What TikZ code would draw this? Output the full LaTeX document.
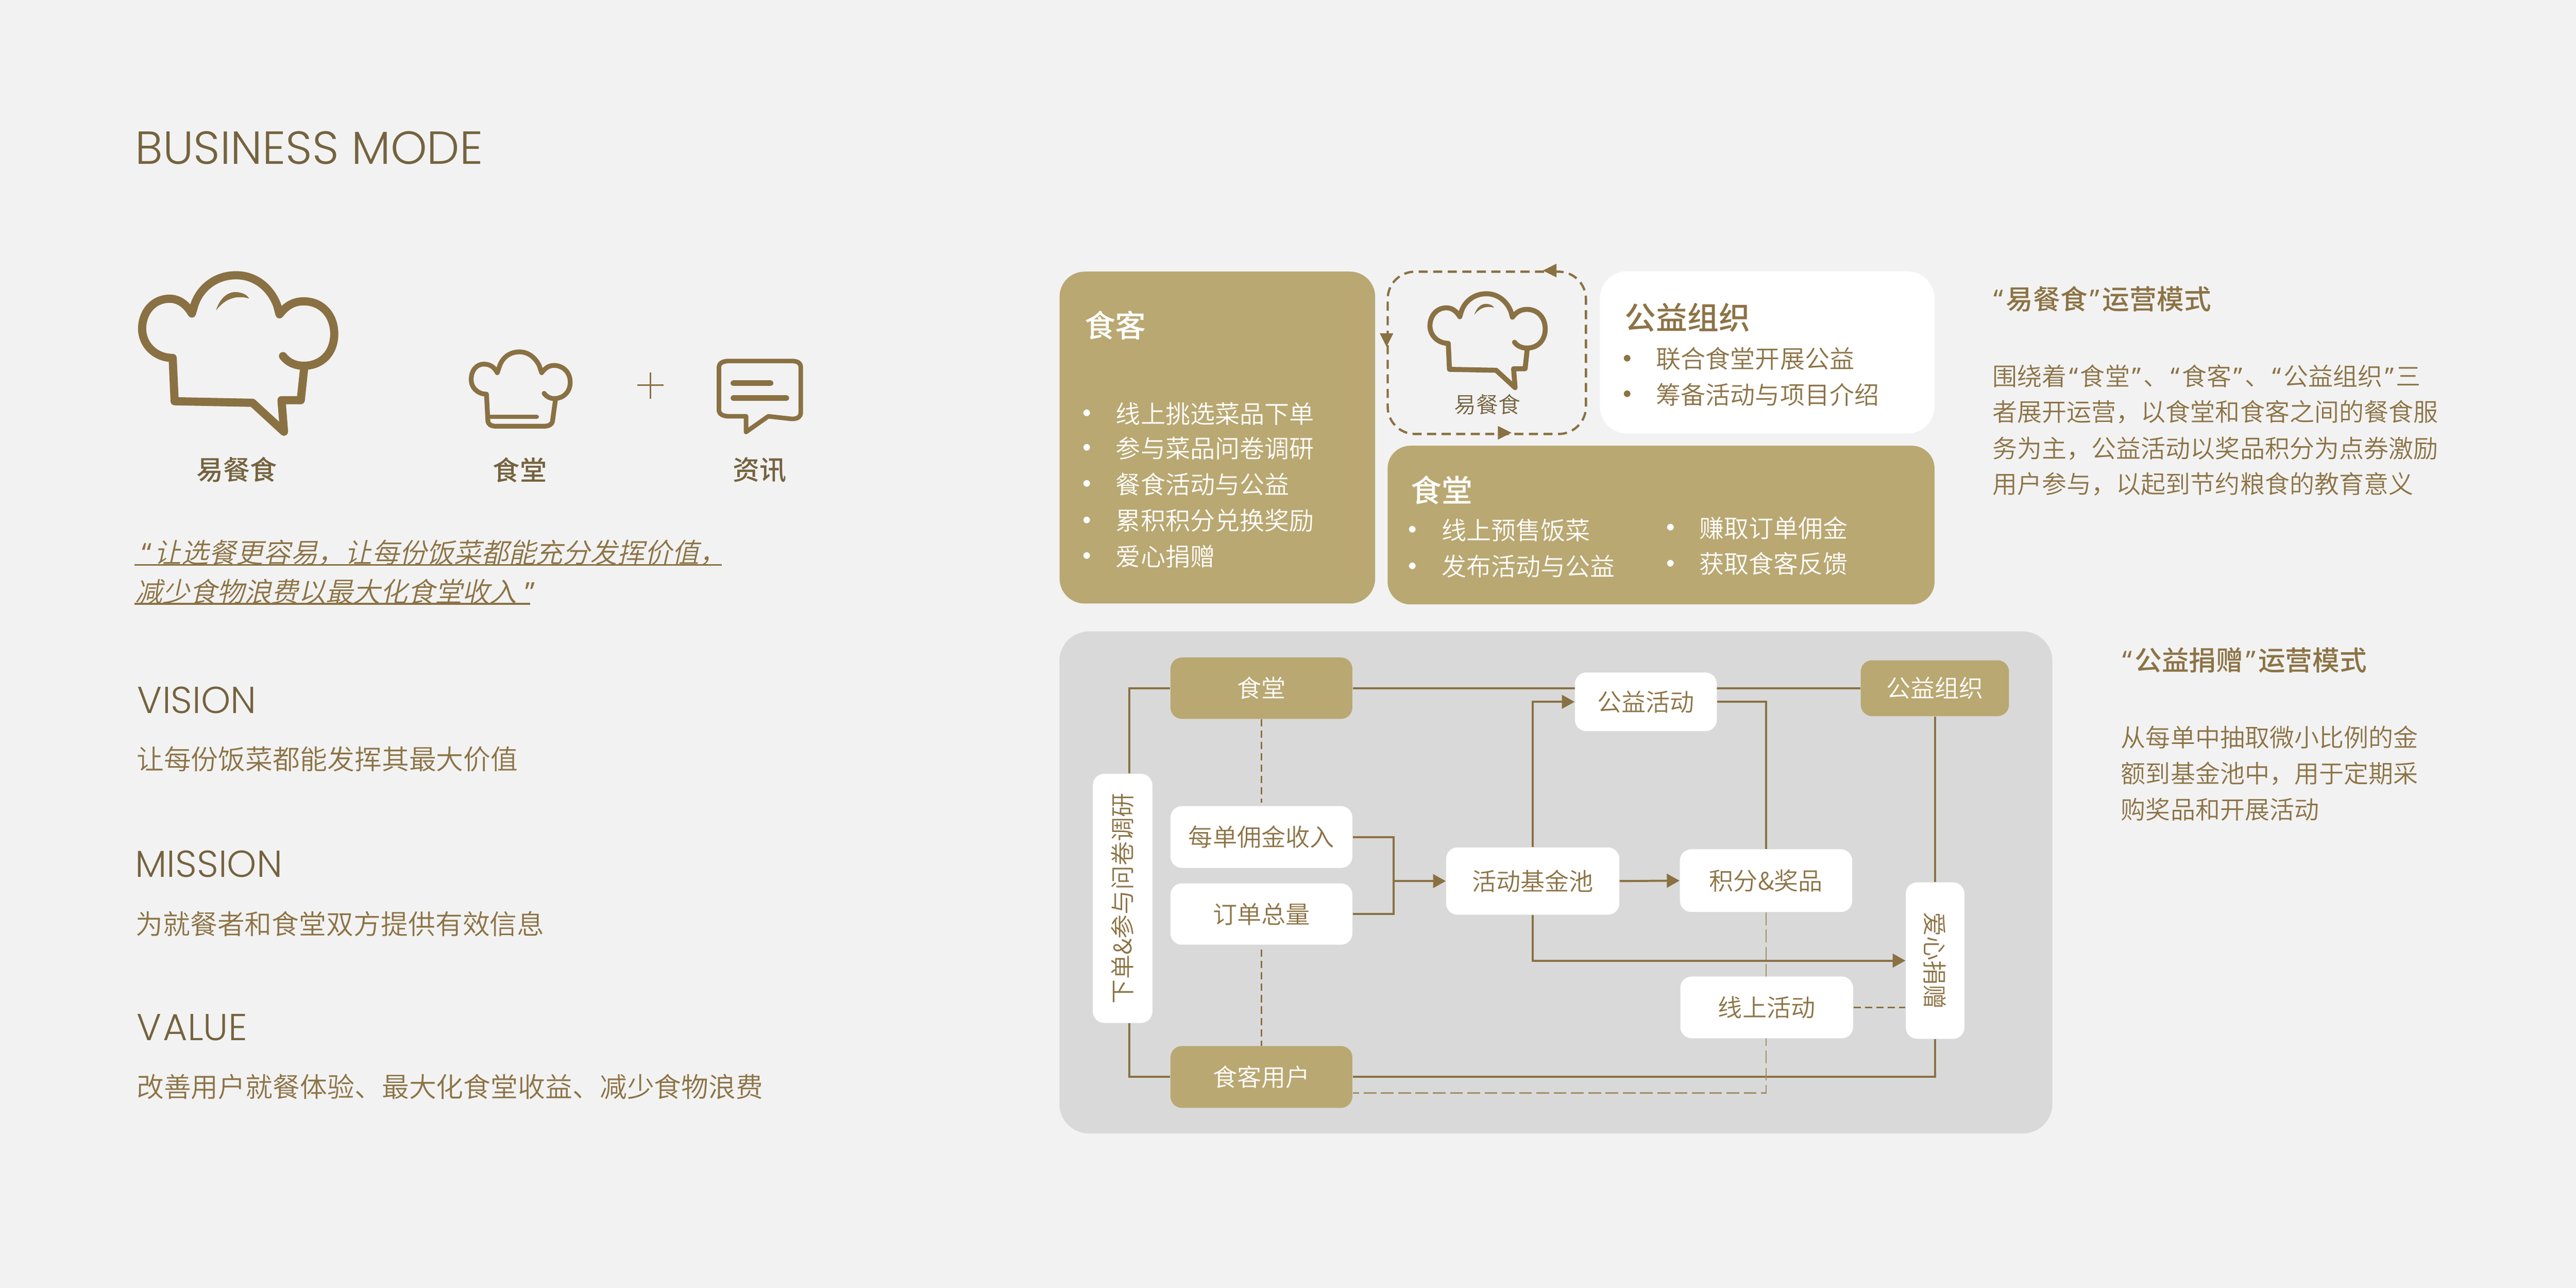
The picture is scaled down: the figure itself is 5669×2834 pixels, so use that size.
\documentclass[tikz,border=0pt]{standalone}
\usepackage{fontspec}
\setmainfont{Noto Sans CJK SC DemiLight}
\newfontfamily\cjkmed{Noto Sans CJK SC Medium}
\newfontfamily\cjkslant[FakeSlant=0.22]{Noto Sans CJK SC DemiLight}
\newfontfamily\latinlight{Poppins Light}
\newfontfamily\quotefont{Noto Sans}
\usetikzlibrary{arrows.meta,calc,backgrounds}
\definecolor{bgc}{HTML}{F2F2F2}
\definecolor{panelc}{HTML}{D9D9D9}
\definecolor{goldc}{HTML}{B9A872}
\definecolor{linec}{HTML}{8A7143}
\definecolor{textc}{HTML}{8C7345}
\definecolor{headc}{HTML}{75633F}
\pgfdeclarelayer{back}
\pgfdeclarelayer{edges}
\pgfsetlayers{back,edges,main}
\newcommand\fsz[1]{\fontsize{#1pt}{#1pt}\selectfont}
\newcommand\bul{\makebox[0.69cm][l]{\hspace{-0.30cm}\raisebox{-0.05cm}{\scalebox{1.3}{•}}}}
\newcommand\qo{\makebox[0.55em][c]{\quotefont “}}
\newcommand\qc{\makebox[0.55em][c]{\quotefont ”}}
\tikzset{
  txt/.style={inner sep=0,anchor=west,text=textc},
  body/.style={txt,font=\fsz{15.5}},
  lead/.style={txt,font=\fsz{17.05}},
  head/.style={txt,text=textc,font=\fsz{17}\cjkmed},
  eng/.style={txt,text=headc,font=\fsz{23.5}\latinlight},
  engbig/.style={txt,text=headc,font=\fsz{29}\latinlight},
  wbox/.style={rounded corners=0.25cm,fill=white,inner sep=0,text=textc,font=\fsz{15.2},align=center},
  gbox/.style={rounded corners=0.25cm,fill=goldc,inner sep=0,text=white,font=\fsz{15.2},align=center},
  conn/.style={draw=linec,line width=0.045cm},
  arr/.style={conn,-{Triangle[length=0.28cm,width=0.30cm]}},
  dash1/.style={draw=linec,line width=0.04cm,dash pattern=on 0.16cm off 0.09cm},
  dash2/.style={draw=linec!80,line width=0.03cm,dash pattern=on 0.28cm off 0.1cm},
  hatline/.style={draw=linec,line join=round,line cap=round},
}
\newcommand\hatshape[1]{%
  \draw[hatline,line width=#1]
    (390,485) .. controls (400,510) and (415,522) .. (432,522)
    .. controls (470,522) and (494,470) .. (494,400)
    .. controls (494,330) and (470,275) .. (432,275)
    .. controls (410,275) and (395,295) .. (383,325)
    -- (378,290) .. controls (365,225) and (335,175) .. (295,175)
    .. controls (250,175) and (220,230) .. (210,290)
    -- (205,322) .. controls (195,290) and (180,265) .. (160,265)
    .. controls (125,265) and (104,320) .. (104,380)
    .. controls (104,440) and (130,492) .. (166,492)
    -- (170,658) -- (328,664) -- (392,775) -- (387,654) -- (426,654) -- (433,530);
  \fill[linec] (254,310) .. controls (262,260) and (280,235) .. (298,240)
    .. controls (310,243) and (318,252) .. (321,264)
    .. controls (295,250) and (272,265) .. (254,310) -- cycle;
}
\begin{document}
\begin{tikzpicture}[x=0.01cm,y=-0.01cm]
\useasboundingbox (0,0) rectangle (5669,2834);
\begin{pgfonlayer}{back}
  \fill[bgc] (0,0) rectangle (5669,2834);
  \node[fill=panelc,rounded corners=0.65cm,inner sep=0,minimum width=21.84cm,minimum height=11.04cm] (panel) at (3424,1942) {};
\end{pgfonlayer}

% ---- left column
\node[engbig] (title) at (297,325) {BUSINESS MODE};

\begin{scope}[shift={(303,600)},xscale=1.0841,yscale=.574,shift={(-95,-165)}]
  \hatshape{0.18cm}
\end{scope}
\node[lead,anchor=center,text=headc,font=\fsz{16.8}\cjkmed] (lbl1) at (521,1034) {易餐食};

% canteen icon
\begin{scope}[shift={(200,500)},xscale=1.0841,yscale=.574]
  \draw[hatline,line width=0.105cm]
    (920,637) .. controls (925,650) and (932,657) .. (940,657)
    .. controls (960,657) and (973,630) .. (973,595)
    .. controls (973,555) and (958,530) .. (940,530)
    .. controls (930,530) and (922,540) .. (915,558)
    -- (910,530) .. controls (902,500) and (888,478) .. (870,478)
    .. controls (850,478) and (836,500) .. (830,530)
    -- (825,558) .. controls (820,540) and (812,525) .. (798,525)
    .. controls (782,525) and (772,550) .. (772,585)
    .. controls (772,615) and (785,640) .. (803,640)
    -- (806,745) .. controls (807,755) and (812,763) .. (822,763)
    -- (920,763) .. controls (930,763) and (936,755) .. (937,745) -- (943,662);
  \draw[linec,line width=0.10cm,line cap=round] (812,727) -- (905,727);
\end{scope}
\node[lead,anchor=center,text=headc,font=\fsz{16.8}\cjkmed] (lbl2) at (1144,1034) {食堂};

% plus
\draw[linec,line width=0.035cm] (1403,847) -- (1460,847);
\draw[linec,line width=0.035cm] (1431,820) -- (1431,877);

% message icon
\begin{scope}[shift={(200,500)},xscale=1.0841,yscale=.574]
  \draw[hatline,line width=0.10cm]
    (1295,513) -- (1423,513) .. controls (1435,513) and (1441,522) .. (1441,535)
    -- (1441,712) .. controls (1441,726) and (1435,735) .. (1423,735)
    -- (1375,725) -- (1330,785) -- (1330,725) -- (1295,725)
    .. controls (1283,725) and (1275,716) .. (1275,702)
    -- (1275,535) .. controls (1275,522) and (1283,513) .. (1295,513) -- cycle;
  \draw[linec,line width=0.12cm,line cap=round] (1304,598) -- (1380,598);
  \draw[linec,line width=0.12cm,line cap=round] (1304,655) -- (1412,655);
\end{scope}
\node[lead,anchor=center,text=headc,font=\fsz{16.8}\cjkmed] (lbl3) at (1672,1034) {资讯};

\node[lead,font=\fsz{17.05}\cjkslant] (q1) at (306,1216) {\qo 让选餐更容易，让每份饭菜都能充分发挥价值，};
\node[lead,font=\fsz{17.05}\cjkslant] (q2) at (297,1302) {减少食物浪费以最大化食堂收入 \qc};
\draw[linec,line width=0.04cm] (296,1243) -- (1589,1243);
\draw[linec,line width=0.04cm] (296,1329) -- (1167,1329);

\node[eng] (vision) at (302,1541) {VISION};
\node[lead] (visiont) at (300,1671) {让每份饭菜都能发挥其最大价值};
\node[eng] (mission) at (297,1901) {MISSION};
\node[lead] (missiont) at (298,2033) {为就餐者和食堂双方提供有效信息};
\node[eng] (value) at (300,2261) {V\hspace{0.04cm}ALUE};
\node[lead] (valuet) at (300,2392) {改善用户就餐体验、最大化食堂收益、减少食物浪费};

% ---- top panels
\node[fill=goldc,rounded corners=0.55cm,inner sep=0,minimum width=6.94cm,minimum height=7.30cm] (pA) at (2679,963) {};
\node[txt,text=white,font=\fsz{19.3}\cjkmed] (pAt) at (2386,716) {食客};
\node[body,text=white] (a1) at (2386,911) {\bul 线上挑选菜品下单};
\node[body,text=white] (a2) at (2386,987) {\bul 参与菜品问卷调研};
\node[body,text=white] (a3) at (2386,1066) {\bul 餐食活动与公益};
\node[body,text=white] (a4) at (2386,1146) {\bul 累积积分兑换奖励};
\node[body,text=white] (a5) at (2386,1225) {\bul 爱心捐赠};

\node[draw=linec,line width=0.05cm,dash pattern=on 0.2cm off 0.12cm,rounded corners=0.6cm,inner sep=0,minimum width=4.36cm,minimum height=3.57cm] (pB) at (3272,776.5) {};
\fill[linec] (pB.north west) ++(344,0) -- ++(30,-15) -- ++(0,30) -- cycle;
\fill[linec] (pB.north west) ++(0,168) -- ++(-15,-30) -- ++(30,0) -- cycle;
\fill[linec] (pB.north west) ++(275,357) -- ++(-30,-15) -- ++(0,30) -- cycle;
\begin{scope}[shift={(3141,643)},xscale=.6505,yscale=.3444,shift={(-95,-165)}]
  \hatshape{0.11cm}
\end{scope}
\node[txt,anchor=center,font=\fsz{13.8},text=headc] (pBt) at (3273,890) {易餐食};

\node[fill=white,rounded corners=0.6cm,inner sep=0,minimum width=7.36cm,minimum height=3.57cm] (pC) at (3889,775.5) {};
\node[txt,font=\fsz{19.6}\cjkmed] (pCt) at (3575,699) {公益组织};
\node[body] (c1) at (3575,790) {\bul 联合食堂开展公益};
\node[body] (c2) at (3575,869) {\bul 筹备活动与项目介绍};

\node[fill=goldc,rounded corners=0.5cm,inner sep=0,minimum width=12.03cm,minimum height=3.49cm] (pD) at (3655.5,1155.5) {};
\node[txt,text=white,font=\fsz{19.3}\cjkmed] (pDt) at (3104,1079) {食堂};
\node[body,text=white] (d1) at (3103,1167) {\bul 线上预售饭菜};
\node[body,text=white] (d2) at (3103,1247) {\bul 发布活动与公益};
\node[body,text=white] (d3) at (3670,1162) {\bul 赚取订单佣金};
\node[body,text=white] (d4) at (3670,1241) {\bul 获取食客反馈};

% ---- right text
\node[head] (r1t) at (4381,658) {\qo 易餐食\qc 运营模式};
\node[body] (r1a) at (4384,828) {围绕着\qo 食堂\qc 、\qo 食客\qc 、\qo 公益组织\qc 三};
\node[body] (r1b) at (4384,907) {者展开运营，以食堂和食客之间的餐食服};
\node[body] (r1c) at (4384,987) {务为主，公益活动以奖品积分为点券激励};
\node[body] (r1d) at (4384,1065) {用户参与，以起到节约粮食的教育意义};
\node[head] (r2t) at (4664,1453) {\qo 公益捐赠\qc 运营模式};
\node[body] (r2a) at (4667,1623) {从每单中抽取微小比例的金};
\node[body] (r2b) at (4667,1703) {额到基金池中，用于定期采};
\node[body] (r2c) at (4667,1782) {购奖品和开展活动};

% ---- flow diagram
\node[gbox,minimum width=4cm,minimum height=1.35cm] (shitang) at (2776,1514.5) {食堂};
\node[wbox,minimum width=4cm,minimum height=1.36cm] (meidan) at (2776,1842) {每单佣金收入};
\node[wbox,minimum width=4cm,minimum height=1.35cm] (dingdan) at (2776,2011.5) {订单总量};
\node[gbox,minimum width=4cm,minimum height=1.36cm] (shike) at (2776,2370) {食客用户};
\node[wbox,minimum width=1.31cm,minimum height=5.48cm] (wenjuan) at (2470.5,1977) {\rotatebox{90}{下单\&参与问卷调研}};
\node[wbox,minimum width=3.81cm,minimum height=1.48cm] (fund) at (3373,1939) {活动基金池};
\node[wbox,minimum width=3.12cm,minimum height=1.29cm] (gongyi) at (3622,1544.5) {公益活动};
\node[wbox,minimum width=3.79cm,minimum height=1.38cm] (jifen) at (3886.5,1938) {积分\&奖品};
\node[wbox,minimum width=3.80cm,minimum height=1.36cm] (xianshang) at (3888,2217) {线上活动};
\node[gbox,minimum width=3.26cm,minimum height=1.23cm] (zuzhi) at (4258,1514.5) {公益组织};
\node[wbox,minimum width=1.29cm,minimum height=3.44cm] (aixin) at (4258.5,2114) {\rotatebox{-90}{爱心捐赠}};
\coordinate (jx) at (3067,1939);

\begin{pgfonlayer}{edges}
  \draw[conn] (shitang.east) -- (zuzhi.west);
  \draw[conn] (shitang.west) -| ($(wenjuan.north)+(15,0)$);
  \draw[conn] (shike.west) -| ($(wenjuan.south)+(15,0)$);
  \draw[dash1,shorten >=0.07cm] (shitang.south) -- (meidan.north);
  \draw[dash1,shorten <=0.1cm] (dingdan.south) -- (shike.north);
  \draw[conn] (meidan.east) -| (jx);
  \draw[conn] (dingdan.east) -| (jx);
  \draw[arr] (jx) -- (fund.west);
  \draw[arr] (fund.north) |- (gongyi.west);
  \draw[conn] (gongyi.east) -| (jifen.north);
  \draw[arr] (fund.east) -- (jifen.west);
  \draw[arr] (fund.south) |- (aixin.west);
  \draw[dash1] (xianshang.east) -- (xianshang.east -| aixin.west);
  \draw[conn] (zuzhi.south -| aixin.north) -- (aixin.north);
  \draw[conn] (aixin.south) |- (shike.east);
  \draw[dash2] (jifen.south) |- ($(shike.east)+(0,35)$);
\end{pgfonlayer}
\end{tikzpicture}
\end{document}
